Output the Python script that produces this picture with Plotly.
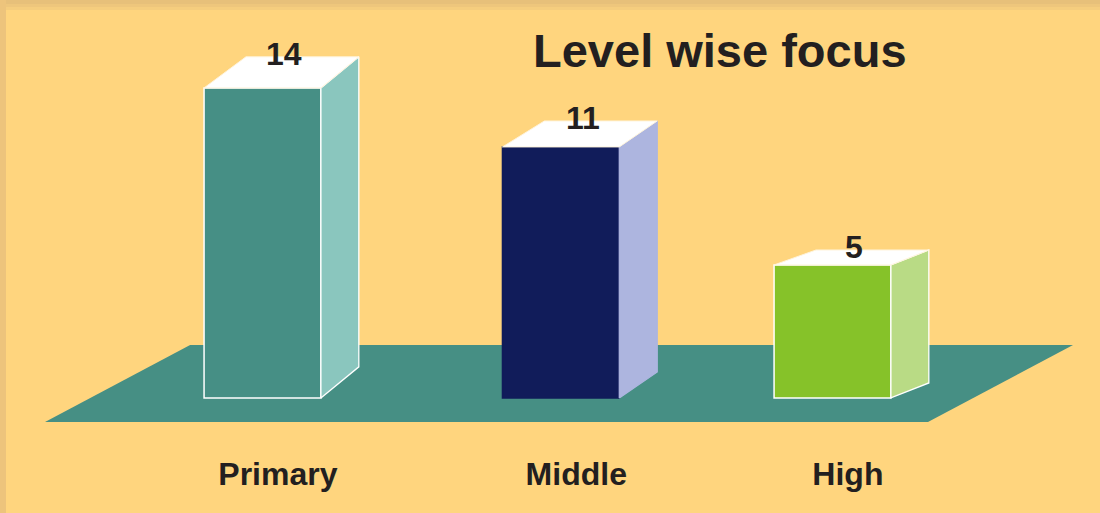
import plotly.graph_objects as go

# ---- data ----
categories = ["Primary", "Middle", "High"]
values = [14, 11, 5]
chart_title = "Level wise focus"

# ---- geometry / styling ----
slots = [0, 1.047, 2.0]               # x slot of each category
bar_width = 0.41                      # front face width (x units)
floor_level = -1.76                   # where the boxes stand on the floor
depth_run_left = 0.147                # oblique depth, x units (left edge)
depth_run_right = 0.133               # oblique depth, x units (right edge)
depth_rise = [1.58, 1.32, 0.76]       # oblique depth, y units, per box
label_shift = 0.054                   # category labels sit on the box centre
value_shift = 0.077                   # value labels sit over the top face

front_colors = ["#468F85", "#111C5A", "#86C229"]
side_colors = ["#8AC6BE", "#ADB5DF", "#B9DB85"]
edge_colors = ["#FFFFFF", "#111C5A", "#FFFFFF"]
side_edge_colors = ["#FFFFFF", "#ADB5DF", "#FFFFFF"]
bg_color = "#FFD57E"
floor_color = "#468F84"
text_color = "#231F20"
font_family = "Liberation Sans, Arial, sans-serif"

W, H = 1100, 513
margin_b = 61
plot_h = H - margin_b

fig = go.Figure()

# front faces of the boxes
fig.add_trace(go.Bar(
    x=slots,
    y=[v - floor_level for v in values],
    base=floor_level,
    width=bar_width,
    marker=dict(color=front_colors,
                line=dict(color=edge_colors, width=1.5)),
    hoverinfo="skip",
))

# side and top faces, derived from each value
for i, v in enumerate(values):
    xl = slots[i] - bar_width / 2
    xr = slots[i] + bar_width / 2
    top, bot = v, floor_level
    rise = depth_rise[i]
    fig.add_trace(go.Scatter(
        x=[xr, xr + depth_run_right, xr + depth_run_right, xr, xr],
        y=[top, top + rise, bot + rise, bot, top],
        mode="lines", fill="toself", fillcolor=side_colors[i],
        line=dict(color=side_edge_colors[i], width=1.3),
        hoverinfo="skip",
    ))
    fig.add_trace(go.Scatter(
        x=[xl, xr, xr + depth_run_right, xl + depth_run_left, xl],
        y=[top, top, top + rise, top + rise, top],
        mode="lines", fill="toself", fillcolor="#FFFFFF",
        line=dict(color="#FFF4DC", width=1),
        hoverinfo="skip",
    ))
    fig.add_annotation(
        x=slots[i] + value_shift, y=v + rise, xref="x", yref="y",
        text=str(v), showarrow=False, yanchor="middle", yshift=3,
        font=dict(family=font_family, size=32, color=text_color, weight="bold"),
    )

# floor plane
floor_path = ("M -0.763,-2.98 L 2.335,-2.98 L 2.844,0.93 "
              "L -0.254,0.93 Z")
shapes = [
    dict(type="path", path=floor_path, xref="x", yref="y",
         fillcolor=floor_color, line=dict(width=0), layer="below"),
    # frame shading along the top and left edges
    dict(type="rect", xref="paper", yref="paper",
         x0=0, x1=1, y0=1 - 10 / plot_h, y1=1,
         fillcolor="#F5CD7E", line=dict(width=0), layer="above"),
    dict(type="rect", xref="paper", yref="paper",
         x0=0, x1=1, y0=1 - 7 / plot_h, y1=1,
         fillcolor="#EEC67C", line=dict(width=0), layer="above"),
    dict(type="rect", xref="paper", yref="paper",
         x0=0, x1=1, y0=1 - 4 / plot_h, y1=1,
         fillcolor="#E7C07A", line=dict(width=0), layer="above"),
    dict(type="rect", xref="paper", yref="paper",
         x0=0, x1=6 / W, y0=-margin_b / plot_h, y1=1,
         fillcolor="#EDC47C", line=dict(width=0), layer="above"),
]

fig.add_annotation(
    x=720 / W, y=1 - 50 / plot_h, xref="paper", yref="paper",
    text=chart_title, showarrow=False, xanchor="center", yanchor="middle",
    font=dict(family=font_family, size=47, color=text_color, weight="bold"),
)

fig.update_layout(
    width=W, height=H,
    margin=dict(l=0, r=0, t=0, b=margin_b, pad=0),
    paper_bgcolor=bg_color, plot_bgcolor=bg_color,
    showlegend=False, shapes=shapes, hovermode=False,
    xaxis=dict(range=[-0.921, 2.9386], showgrid=False, zeroline=False,
               showline=False, ticks="",
               tickvals=[s + label_shift for s in slots],
               ticktext=categories,
               tickfont=dict(family=font_family, size=32, color=text_color,
                             weight="bold")),
    yaxis=dict(range=[-4.51, 18.47], visible=False),
)

fig.write_html("out.html")
